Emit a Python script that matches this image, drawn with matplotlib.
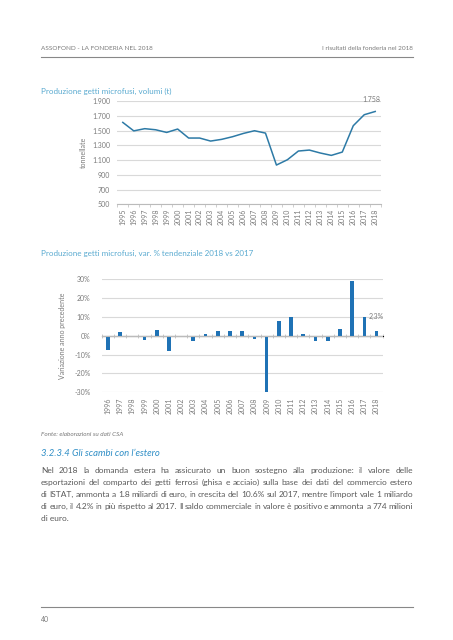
import matplotlib
matplotlib.use('Agg')
import matplotlib.pyplot as plt
from matplotlib.ticker import FuncFormatter

plt.rcParams['font.family'] = ['Lato', 'DejaVu Sans']

# volumi prodotti (t)
anni_vol = [str(a) for a in range(1995, 2019)]
volumi = [1610, 1495, 1525, 1510, 1474, 1520, 1398, 1398, 1357, 1380, 1416, 1461,
          1497, 1465, 1032, 1104, 1222, 1235, 1195, 1163, 1208, 1565, 1714, 1758]

# variazione % anno precedente
anni_var = [str(a) for a in range(1996, 2019)]
variazioni = [-7.6, 1.9, -0.3, -2.5, 3.0, -7.9, 0.0, -2.6, 0.9, 2.5, 2.6, 2.3,
              -1.8, -29.6, 7.8, 9.9, 0.7, -3.0, -2.8, 3.7, 28.9, 9.7, 2.3]

testo = [
    "Nel 2018 la domanda estera ha assicurato un buon sostegno alla produzione: il valore delle",
    "esportazioni del comparto dei getti ferrosi (ghisa e acciaio) sulla base dei dati del commercio estero",
    "di ISTAT, ammonta a 1.8 miliardi di euro, in crescita del 10.6% sul 2017, mentre l\u2019import vale 1 miliardo",
    "di euro, il 4.2% in più rispetto al 2017. Il saldo commerciale in valore è positivo e ammonta a 774 milioni",
    "di euro.",
]

W, H = 453, 640
GRIGIO = '#7a7a7a'
GRIGLIA = '#d9d9d9'
AZZURRO = '#5aaad0'
LINEA = '#2d7aa6'
BARRE = '#1f72b5'


def fx(px):
    return px / W


def fy(py):
    return 1 - py / H


def justified(fig, x0, x1, y, line, **kw):
    words = line.split()
    r = fig.canvas.get_renderer()
    texts = [fig.text(0, y, w, va='baseline', **kw) for w in words]
    widths = [t.get_window_extent(r).width / fig.bbox.width for t in texts]
    gap = (x1 - x0 - sum(widths)) / (len(words) - 1)
    x = x0
    for t, w in zip(texts, widths):
        t.set_x(x)
        x += w + gap


fig = plt.figure(figsize=(W / 100, H / 100), dpi=100)

# intestazione
fig.text(fx(41), fy(48), 'ASSOFOND - LA FONDERIA NEL 2018', fontsize=4.6, color=GRIGIO, va='center')
fig.text(fx(413), fy(48), 'I risultati della fonderia nel 2018', fontsize=4.6, color=GRIGIO,
         va='center', ha='right')
fig.add_artist(plt.Line2D([fx(41), fx(413)], [fy(57), fy(57)], color='#888888', lw=0.8))

# --- grafico volumi ---
fig.text(fx(41), fy(91), 'Produzione getti microfusi, volumi (t)', fontsize=5.8, color=AZZURRO, va='center')
ax1 = fig.add_axes([fx(117.3), fy(204.3), fx(263.4), (204.3 - 101) / H])
x1 = range(len(anni_vol))
ax1.plot(x1, volumi, color=LINEA, lw=1.1)
ax1.set_xlim(-0.5, len(anni_vol) - 0.5)
ax1.set_ylim(500, 1900)
ax1.set_yticks(range(500, 1901, 200))
ax1.yaxis.set_major_formatter(FuncFormatter(lambda v, p: f'{int(v):,}'.replace(',', '.')))
ax1.set_xticks(list(x1))
ax1.set_xticklabels(anni_vol, rotation=90)
ax1.set_xticks([i - 0.5 for i in range(len(anni_vol) + 1)], minor=True)
ax1.tick_params(axis='x', which='major', length=0, pad=3, labelsize=5, labelcolor=GRIGIO)
ax1.tick_params(axis='x', which='minor', length=2.5, color='#bbbbbb', width=0.5)
ax1.tick_params(axis='y', length=0, labelsize=5, labelcolor=GRIGIO, pad=5)
ax1.grid(axis='y', color=GRIGLIA, lw=0.8)
ax1.set_axisbelow(True)
for s in ['top', 'right', 'left']:
    ax1.spines[s].set_visible(False)
ax1.spines['bottom'].set_color('#bbbbbb')
ax1.spines['bottom'].set_linewidth(0.8)
ax1.set_ylabel('tonnellate', fontsize=5, color=GRIGIO, labelpad=4)
ax1.annotate(f'{volumi[-1]:,}'.replace(',', '.'), (len(volumi) - 1, volumi[-1]),
             xytext=(-3, 6), textcoords='offset points', ha='center', va='bottom',
             fontsize=5, color=GRIGIO)

# --- grafico variazioni ---
fig.text(fx(41), fy(253), 'Produzione getti microfusi, var. % tendenziale 2018 vs 2017',
         fontsize=5.8, color=AZZURRO, va='center')
ax2 = fig.add_axes([fx(101.7), fy(392.3), fx(281), (392.3 - 279) / H])
x2 = range(len(anni_var))
ax2.bar(x2, variazioni, width=0.3, color=BARRE)
ax2.set_xlim(-0.5, len(anni_var) - 0.5)
ax2.set_ylim(-30, 30)
ax2.set_yticks(range(-30, 31, 10))
ax2.yaxis.set_major_formatter(FuncFormatter(lambda v, p: f'{int(v)}%'))
ax2.set_xticks(list(x2))
ax2.set_xticklabels(anni_var, rotation=90)
ax2.tick_params(axis='x', length=0, pad=4, labelsize=5, labelcolor=GRIGIO)
ax2.tick_params(axis='y', length=0, labelsize=5, labelcolor=GRIGIO, pad=8)
ax2.grid(axis='y', color=GRIGLIA, lw=0.8)
ax2.set_axisbelow(True)
for s in ['top', 'right', 'left', 'bottom']:
    ax2.spines[s].set_visible(False)
ax2.axhline(0, color='#bbbbbb', lw=0.8, zorder=1)
sec = ax2.secondary_xaxis(0.5)
sec.set_xticks([i - 0.5 for i in range(len(anni_var) + 1)])
sec.set_xticklabels([])
sec.tick_params(length=2.5, color='#bbbbbb', width=0.5, direction='inout')
sec.spines['bottom'].set_visible(False)
ax2.set_ylabel('Variazione anno precedente', fontsize=5, color=GRIGIO, labelpad=6)
ax2.annotate(f'{variazioni[-1]:.1f}%'.replace('.', ','), (len(variazioni) - 1, variazioni[-1]),
             xytext=(0, 8), textcoords='offset points', ha='center', va='bottom',
             fontsize=5, color=GRIGIO)

fig.text(fx(41), fy(434), 'Fonte: elaborazioni su dati CSA', fontsize=4.6, style='italic',
         color=GRIGIO, va='center')

# --- testo ---
fig.text(fx(41), fy(453), '3.2.3.4 Gli scambi con l\u2019estero', fontsize=6.8, style='italic',
         color='#2f8ec6', va='center')
for i, riga in enumerate(testo):
    y = fy(473 + 12 * i)
    if i < len(testo) - 1:
        justified(fig, fx(41), fx(413), y, riga, fontsize=6.0, color='#5a5a5a')
    else:
        fig.text(fx(41), y, riga, fontsize=6.0, color='#5a5a5a', va='baseline')

fig.add_artist(plt.Line2D([fx(41), fx(413)], [fy(607), fy(607)], color='#888888', lw=0.8))
fig.text(fx(41), fy(620), '40', fontsize=5, color=GRIGIO, va='center')

fig.savefig('out.png', dpi=100)
